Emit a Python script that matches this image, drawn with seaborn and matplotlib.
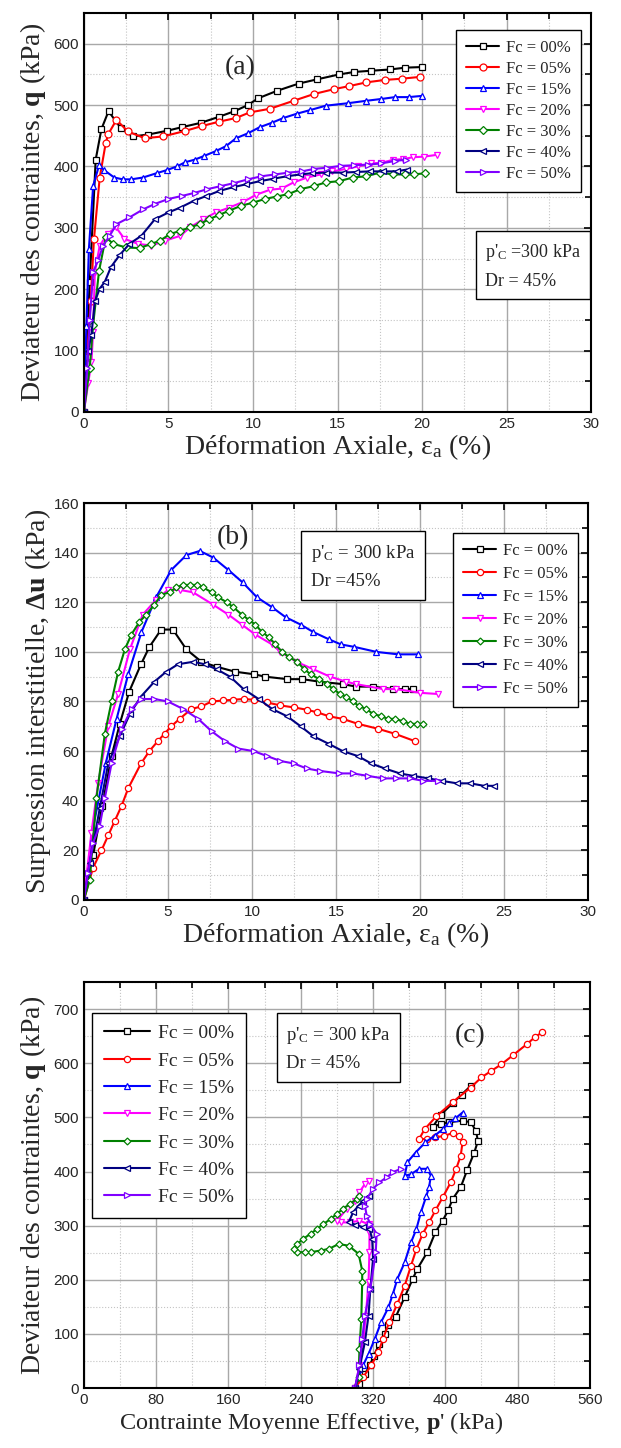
import matplotlib
matplotlib.use("Agg")
import matplotlib.pyplot as plt
import seaborn as sns
from matplotlib.ticker import MultipleLocator

# ---------------- data ----------------
labels = ["Fc = 00%", "Fc = 05%", "Fc = 15%", "Fc = 20%", "Fc = 30%", "Fc = 40%", "Fc = 50%"]
colors = ["#000000", "#ff0000", "#0000ff", "#ff00ff", "#008000", "#000080", "#8000ff"]
markers = ["s", "o", "^", "v", "D", "<", ">"]

# (a) q vs axial strain
a00_e = [0, 0.15, 0.35, 0.7, 1.04, 1.46, 2.2, 2.9, 3.8, 4.9, 5.8, 6.9, 8.0, 8.9, 9.7, 10.3, 11.4, 12.7, 13.8, 15.1, 16.0, 17.0, 18.1, 19.0, 20.0]
a00_q = [0, 100, 212, 411, 461, 490, 462, 449, 452, 458, 464, 471, 481, 490, 500, 511, 523, 535, 542, 550, 554, 556, 558, 561, 562]
a05_e = [0, 0.2, 0.4, 0.6, 0.94, 1.3, 1.45, 1.93, 2.6, 3.6, 4.7, 6.0, 7.0, 8.0, 9.0, 9.8, 11.0, 12.4, 13.6, 14.8, 15.7, 16.7, 17.8, 18.8, 19.9]
a05_q = [0, 90, 180, 282, 382, 439, 453, 476, 457, 446, 449, 458, 466, 473, 479, 488, 494, 507, 518, 526, 531, 537, 541, 543, 546]
a15_e = [0, 0.15, 0.3, 0.55, 0.9, 1.2, 1.8, 2.3, 2.8, 3.5, 4.3, 4.9, 5.5, 6.0, 6.55, 7.1, 7.8, 8.4, 9.0, 9.7, 10.4, 11.1, 11.8, 12.6, 13.4, 14.3, 15.6, 16.7, 17.6, 18.4, 19.2, 20.0]
a15_q = [0, 140, 266, 368, 402, 394, 382, 379, 379, 382, 389, 394, 400, 407, 411, 417, 425, 433, 446, 454, 464, 471, 479, 486, 492, 499, 503, 507, 510, 513, 513, 515]
a20_e = [0, 0.26, 0.45, 0.55, 0.65, 0.94, 1.4, 1.9, 2.4, 3.2, 4.0, 4.8, 5.7, 6.3, 7.05, 7.8, 8.6, 9.4, 10.2, 11.0, 11.7, 12.4, 13.2, 14.0, 14.7, 15.5, 16.2, 17.0, 17.6, 18.3, 18.9, 19.45, 20.1, 20.9]
a20_q = [0, 47, 82, 131, 228, 271, 290, 301, 282, 274, 271, 279, 287, 301, 314, 325, 333, 342, 354, 362, 364, 374, 382, 387, 392, 396, 400, 405, 406, 411, 412, 415, 416, 419]
a30_e = [0, 0.35, 0.55, 0.9, 1.3, 1.73, 2.5, 3.3, 4.0, 4.5, 5.1, 5.7, 6.3, 6.85, 7.4, 8.0, 8.6, 9.3, 10.0, 10.7, 11.4, 12.1, 12.8, 13.6, 14.3, 15.1, 15.9, 16.7, 17.5, 18.3, 19.0, 19.5, 20.2]
a30_q = [0, 72, 142, 230, 285, 274, 268, 267, 274, 279, 290, 295, 301, 306, 314, 321, 328, 336, 341, 347, 351, 355, 363, 368, 374, 376, 382, 384, 390, 387, 387, 387, 389]
a40_e = [0, 0.25, 0.45, 0.65, 0.94, 1.24, 1.6, 2.1, 2.7, 3.4, 4.2, 5.0, 5.7, 6.5, 7.25, 8.0, 8.8, 9.6, 10.4, 11.2, 12.0, 12.8, 13.5, 14.3, 15.3, 16.1, 16.9, 17.7, 18.5, 19.1]
a40_q = [0, 99, 126, 180, 201, 212, 236, 255, 274, 287, 314, 325, 333, 344, 352, 360, 366, 371, 376, 380, 384, 387, 389, 390, 390, 391, 392, 392, 392, 395]
a50_e = [0, 0.2, 0.35, 0.55, 0.84, 1.14, 1.53, 1.93, 2.7, 3.5, 4.2, 5.0, 5.8, 6.55, 7.3, 8.1, 8.9, 9.7, 10.5, 11.3, 12.1, 12.9, 13.6, 14.4, 15.2, 16.0, 16.8, 17.6, 18.4, 19.05]
a50_q = [0, 72, 150, 228, 247, 271, 287, 306, 317, 330, 339, 347, 352, 357, 363, 368, 373, 379, 384, 387, 390, 392, 396, 398, 401, 402, 403, 405, 409, 411]

# (b) pore pressure vs axial strain
b00_e = [0, 0.55, 1.1, 1.65, 2.14, 2.7, 3.4, 3.9, 4.6, 5.3, 6.1, 7.0, 7.9, 9.0, 10.1, 10.8, 12.1, 13.0, 14.0, 15.4, 16.2, 17.2, 18.4, 19.1, 19.6]
b00_u = [0, 18, 38, 58, 71, 84, 95, 102, 109, 109, 101, 96, 94, 92, 91, 90, 89, 89, 88, 87, 86, 86, 85, 85, 85]
b05_e = [0, 0.55, 1.05, 1.45, 1.85, 2.25, 2.64, 3.4, 3.9, 4.4, 4.8, 5.2, 5.7, 6.4, 7.0, 7.6, 8.3, 8.9, 9.5, 10.1, 10.9, 11.7, 12.5, 13.25, 13.9, 14.6, 15.4, 16.3, 17.5, 18.5, 19.7]
b05_u = [0, 13, 20, 26, 32, 38, 45, 55, 60, 64, 67, 70, 73, 77, 78, 80, 80.4, 80.7, 81, 80.7, 79.6, 78.4, 77.6, 76.7, 75.6, 74, 73, 71, 69, 67, 64]
b15_e = [0, 0.55, 1.3, 1.95, 2.64, 3.43, 4.3, 5.2, 6.1, 6.9, 7.7, 8.6, 9.45, 10.3, 11.2, 12.0, 12.9, 13.65, 14.6, 15.3, 16.1, 17.4, 18.7, 19.9]
b15_u = [0, 29, 55, 73, 91, 108, 122, 133, 139, 140.7, 138, 133, 128, 122, 118, 114, 111, 108, 105, 103, 102, 100, 99, 99]
b20_e = [0, 0.45, 0.85, 1.45, 2.04, 2.74, 3.5, 4.3, 5.0, 5.7, 6.5, 7.7, 8.6, 9.4, 10.2, 11.2, 11.7, 12.65, 13.65, 14.65, 15.6, 16.2, 17.8, 18.6, 20.0, 21.1]
b20_u = [0, 27, 47, 70, 83, 101, 115, 121, 125, 125, 124, 119, 115, 111, 107, 103, 100, 96, 93, 90, 88, 87, 85, 85, 83.5, 83]
b30_e = [0, 0.35, 0.75, 1.25, 1.65, 2.04, 2.44, 2.83, 3.3, 3.7, 4.2, 4.6, 5.1, 5.5, 5.9, 6.3, 6.75, 7.1, 7.6, 8.0,
         8.5, 8.9, 9.4, 9.8, 10.2, 10.6, 11.0, 11.4, 11.8, 12.2, 12.7, 13.1, 13.5, 14.0, 14.45, 14.85, 15.25, 15.6, 16.0, 16.4,
         16.8, 17.2, 17.7, 18.1, 18.5, 19.0, 19.4, 19.8, 20.2]
b30_u = [0, 8, 41, 67, 80, 92, 101, 107, 112, 115, 119, 123, 124, 126, 127, 127, 127, 126, 124, 122,
         120, 118, 115, 113, 111, 108, 106, 103, 100, 98, 96, 93, 91, 89, 87, 85, 83, 82, 80, 78,
         77, 75, 74, 73, 73, 72, 71, 71, 71]
b40_e = [0, 0.35, 0.95, 1.45, 2.14, 2.74, 3.4, 4.2, 4.9, 5.6, 6.5, 7.2, 7.9, 8.7, 9.5, 10.4, 11.2, 12.1, 12.9, 13.65,
         14.55, 15.4, 16.3, 17.1, 17.9, 18.8, 19.6, 20.5, 21.3, 22.2, 23.0, 23.8, 24.4]
b40_u = [0, 15, 37, 55, 66, 75, 82, 88, 92, 95, 96, 95, 93, 90, 85, 81, 77, 74, 70, 66,
         63, 60, 58, 55, 53, 51, 50, 49, 48, 47, 47, 46, 46]
b50_e = [0, 0.25, 0.55, 0.95, 1.25, 1.65, 2.25, 2.84, 3.4, 4.2, 5.0, 5.9, 6.8, 7.6, 8.4, 9.2, 10.1, 10.9, 11.7, 12.5, 13.25, 14.05, 15.2, 16.0, 16.9, 17.8, 18.6, 19.4, 20.2, 21.1]
b50_u = [0, 11, 23, 30, 41, 55, 69, 77, 81, 81, 80, 77, 73, 68, 64, 61, 60, 58, 56, 55, 53, 52, 51, 51, 50, 49, 49, 49, 48, 48]

# (c) stress path q vs p'
c00_p = [300, 304, 311, 316.5, 321, 327, 333, 336, 345, 355, 364, 369, 380, 389, 397, 403, 408, 417, 424, 432, 436, 434, 428, 419, 404, 395, 386, 395, 408, 418, 428]
c00_q = [0, 8, 26, 42, 60, 82, 100, 116, 131, 168, 202, 220, 251, 288, 309, 328, 349, 371, 402, 435, 456, 475, 491, 494, 491, 488, 482, 505, 526, 542, 558]
c05_p = [300, 309, 318, 326, 331, 338, 347, 355, 362, 368, 375, 382, 389, 397, 406, 412, 417, 419, 415, 408, 399, 389, 380, 371, 377, 390, 408, 428, 440, 451, 462, 475, 490, 499, 507]
c05_q = [0, 20, 42, 66, 91, 122, 156, 189, 226, 257, 285, 306, 328, 352, 380, 405, 429, 454, 466, 471, 466, 463, 460, 460, 478, 502, 528, 555, 574, 586, 598, 615, 635, 648, 657]
c15_p = [300, 309, 315, 322, 329, 337, 342, 347, 355, 362, 368, 373, 379, 382, 384, 380, 371, 362, 355, 358, 367, 378, 388, 397, 404, 411, 419]
c15_q = [0, 42, 63, 91, 122, 149, 174, 202, 232, 269, 294, 325, 355, 371, 392, 405, 405, 395, 392, 417, 435, 454, 466, 478, 490, 498, 509]
c20_p = [300, 305, 309, 312, 315, 316, 316, 315, 305, 294, 285, 280, 291, 300, 305, 311, 315]
c20_q = [0, 42, 85, 134, 196, 251, 288, 303, 309, 306, 306, 309, 331, 346, 362, 377, 383]
c30_p = [300, 304, 305, 307, 308, 308, 304, 293, 282, 271, 262, 251, 245, 236, 232, 236, 243, 251, 258, 265, 273, 280, 287, 294, 302, 305]
c30_q = [0, 20, 73, 128, 196, 217, 248, 263, 266, 257, 254, 251, 251, 251, 257, 266, 276, 285, 294, 303, 312, 322, 331, 340, 349, 355]
c40_p = [300, 305, 311, 315, 317, 320, 319, 316, 309, 300, 293, 298, 304, 309, 315]
c40_q = [0, 36, 85, 134, 183, 239, 276, 294, 297, 302, 306, 325, 337, 346, 355]
c50_p = [300, 305, 308, 311, 317, 323, 324, 317, 313, 311, 313, 320, 327, 335, 342, 351]
c50_q = [0, 42, 91, 134, 183, 251, 285, 303, 318, 337, 349, 368, 380, 389, 399, 405]

# ---------------- style ----------------
sns.set_theme(style="white")
plt.rcParams["font.family"] = ["Liberation Serif", "DejaVu Serif"]
plt.rcParams["mathtext.fontset"] = "custom"
plt.rcParams["mathtext.rm"] = "Liberation Serif"
plt.rcParams["mathtext.it"] = "Liberation Serif:italic"
plt.rcParams["mathtext.bf"] = "Liberation Serif:bold"

fig = plt.figure(figsize=(6.21, 14.48), dpi=100)
ax_a = fig.add_axes([0.135, 0.7155, 0.817, 0.2755])
ax_b = fig.add_axes([0.135, 0.3785, 0.812, 0.2741])
ax_c = fig.add_axes([0.135, 0.0414, 0.815, 0.2804])


def draw(ax, xs, ys, ms=5):
    for x, y, lab, c, m in zip(xs, ys, labels, colors, markers):
        sns.lineplot(x=x, y=y, ax=ax, sort=False, estimator=None, color=c, lw=1.5,
                     marker=m, markersize=ms if m != "D" else ms - 1, markerfacecolor="white",
                     markeredgecolor=c, markeredgewidth=0.9, label=lab)


def frame(ax, xlim, ylim, xmaj, xmin, ymaj, ymin):
    ax.set_xlim(*xlim)
    ax.set_ylim(*ylim)
    ax.xaxis.set_major_locator(MultipleLocator(xmaj))
    ax.xaxis.set_minor_locator(MultipleLocator(xmin))
    ax.yaxis.set_major_locator(MultipleLocator(ymaj))
    ax.yaxis.set_minor_locator(MultipleLocator(ymin))
    ax.grid(which="major", color="#a8a8a8", lw=1.0, ls="-")
    ax.grid(which="minor", color="#c4c4c4", lw=0.8, ls=":")
    ax.set_axisbelow(True)
    ax.tick_params(which="both", direction="in", top=True, right=True, color="black", width=1.2)
    ax.tick_params(which="major", length=5)
    ax.tick_params(which="minor", length=4)
    for lab in ax.get_xticklabels() + ax.get_yticklabels():
        lab.set_fontfamily("Liberation Sans")
        lab.set_fontsize(11)
    for s in ax.spines.values():
        s.set_color("black")
        s.set_linewidth(1.5)


def legend(ax, loc, anchor, fs, spacing, hl):
    lg = ax.legend(loc=loc, bbox_to_anchor=anchor, borderaxespad=0, fontsize=fs,
                   handlelength=hl, labelspacing=spacing, frameon=True, fancybox=False,
                   framealpha=1, edgecolor="black", borderpad=0.6, handletextpad=0.4)
    lg.get_frame().set_linewidth(1.0)


def infobox(ax, x, y, txt, fs):
    ax.text(x, y, txt, transform=ax.transAxes, ha="left", va="top", fontsize=fs,
            linespacing=1.75,
            bbox=dict(boxstyle="square,pad=0.5", fc="white", ec="black", lw=1.0))


# ---------------- (a) ----------------
draw(ax_a, [a00_e, a05_e, a15_e, a20_e, a30_e, a40_e, a50_e],
     [a00_q, a05_q, a15_q, a20_q, a30_q, a40_q, a50_q])
frame(ax_a, (0, 30), (0, 650), 5, 2.5, 100, 50)
ax_a.set_xlabel("Déformation Axiale, ε$_\\mathrm{a}$ (%)", fontsize=20, labelpad=1)
ax_a.set_ylabel("Deviateur des contraintes, $\\mathbf{q}$ (kPa)", fontsize=20, labelpad=4)
legend(ax_a, "upper right", (0.98, 0.957), 12, 0.3, 2.0)
infobox(ax_a, 0.79, 0.425, "p'$_\\mathrm{C}$ =300 kPa\nDr = 45%", 13)
ax_a.text(0.308, 0.862, "(a)", transform=ax_a.transAxes, ha="center", va="center", fontsize=20)

# ---------------- (b) ----------------
draw(ax_b, [b00_e, b05_e, b15_e, b20_e, b30_e, b40_e, b50_e],
     [b00_u, b05_u, b15_u, b20_u, b30_u, b40_u, b50_u], ms=4.5)
frame(ax_b, (0, 30), (0, 160), 5, 2.5, 20, 10)
ax_b.set_xlabel("Déformation Axiale, ε$_\\mathrm{a}$ (%)", fontsize=20, labelpad=1)
ax_b.set_ylabel("Surpression interstitielle, $\\mathbf{Δu}$ (kPa)", fontsize=20, labelpad=0)
legend(ax_b, "upper right", (0.98, 0.924), 12, 0.42, 2.0)
infobox(ax_b, 0.45, 0.9, "p'$_\\mathrm{C}$ = 300 kPa\nDr =45%", 13.5)
ax_b.text(0.296, 0.914, "(b)", transform=ax_b.transAxes, ha="center", va="center", fontsize=20)

# ---------------- (c) ----------------
draw(ax_c, [c00_p, c05_p, c15_p, c20_p, c30_p, c40_p, c50_p],
     [c00_q, c05_q, c15_q, c20_q, c30_q, c40_q, c50_q], ms=4.5)
frame(ax_c, (0, 560), (0, 750), 80, 40, 100, 50)
ax_c.set_xlabel("Contrainte Moyenne Effective, $\\mathbf{p}$' (kPa)", fontsize=17.5)
ax_c.xaxis.set_label_coords(0.45, -0.053, transform=ax_c.transAxes)
ax_c.xaxis.label.set_va("top")
ax_c.set_ylabel("Deviateur des contraintes, $\\mathbf{q}$ (kPa)", fontsize=20, labelpad=4)
legend(ax_c, "upper left", (0.016, 0.924), 14, 0.5, 2.4)
infobox(ax_c, 0.40, 0.895, "p'$_\\mathrm{C}$ = 300 kPa\nDr = 45%", 13.5)
ax_c.text(0.763, 0.869, "(c)", transform=ax_c.transAxes, ha="center", va="center", fontsize=20)

fig.savefig("out.png", dpi=100)
